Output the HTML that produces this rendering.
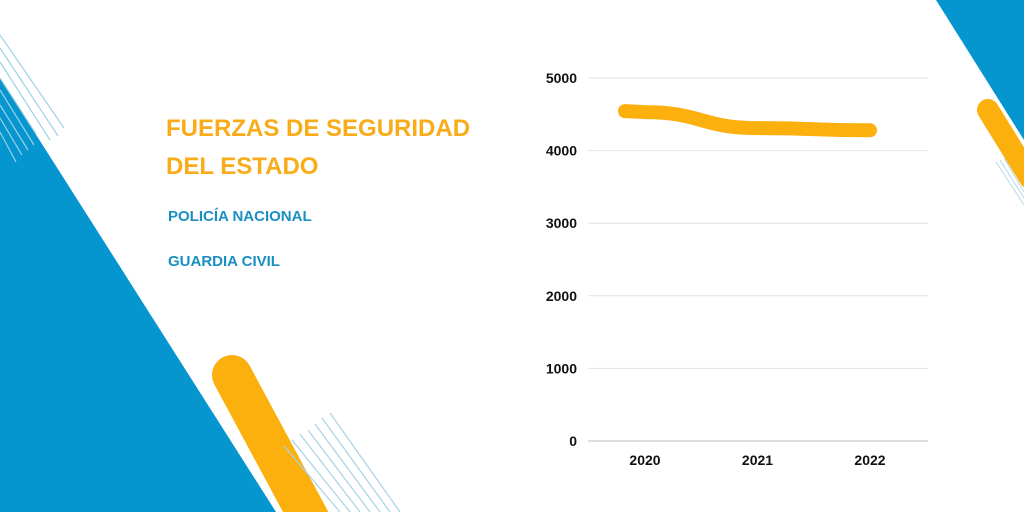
<!DOCTYPE html>
<html><head><meta charset="utf-8">
<style>
body{margin:0;width:1024px;height:512px;overflow:hidden;background:#fff;font-family:"Liberation Sans",sans-serif;}
svg{display:block}
</style></head>
<body>
<svg width="1024" height="512" viewBox="0 0 1024 512">
  <g>
    <polygon points="0,78 276,512 0,512" fill="#0595cf"/>
    <polygon points="936,0 1024,0 1024,140" fill="#0595cf"/>
    <g stroke="#9fd0e6" stroke-width="1.2">
      <line x1="0" y1="35" x2="64" y2="128"/><line x1="0" y1="48" x2="58" y2="136"/>
      <line x1="0" y1="62" x2="50" y2="140"/><line x1="0" y1="78" x2="36" y2="134"/>
      <line x1="0" y1="90" x2="34" y2="145"/><line x1="0" y1="105" x2="28" y2="150"/>
      <line x1="0" y1="118" x2="22" y2="155"/><line x1="0" y1="132" x2="16" y2="162"/>
    </g>
    <line x1="232" y1="375" x2="310" y2="520" stroke="#fbb00e" stroke-width="40" stroke-linecap="round"/>
    <g stroke="#a8d3e6" stroke-width="1.2">
      <line x1="330" y1="413" x2="400" y2="512"/><line x1="322" y1="418" x2="390" y2="512"/>
      <line x1="315" y1="424" x2="380" y2="512"/><line x1="308" y1="430" x2="370" y2="512"/>
      <line x1="300" y1="434" x2="360" y2="512"/><line x1="292" y1="440" x2="350" y2="512"/>
      <line x1="284" y1="446" x2="340" y2="512"/>
    </g>
    <line x1="988" y1="110" x2="1030" y2="178" stroke="#fbb00e" stroke-width="22" stroke-linecap="round"/>
    <g stroke="#b5d9e8" stroke-width="1">
      <line x1="996" y1="162" x2="1024" y2="205"/><line x1="1000" y1="160" x2="1024" y2="198"/>
      <line x1="1004" y1="158" x2="1024" y2="192"/>
    </g>
  </g>
  <text x="166" y="136" font-size="24" font-weight="bold" fill="#f8ac1a">FUERZAS DE SEGURIDAD</text>
  <text x="166" y="174" font-size="24" font-weight="bold" fill="#f8ac1a">DEL ESTADO</text>
  <text x="168" y="221" font-size="15" font-weight="bold" fill="#1a8fc2">POLICÍA NACIONAL</text>
  <text x="168" y="266" font-size="15" font-weight="bold" fill="#1a8fc2">GUARDIA CIVIL</text>
  <g id="chart"></g>
</svg>
<script>
const categories = ["2020","2021","2022"];
const values = [4530, 4310, 4280];
const yTicks = [0,1000,2000,3000,4000,5000];
const NS="http://www.w3.org/2000/svg";
const g=document.getElementById('chart');
const y0=441,y1=78,vmax=5000;
function yScale(v){return y0-(v/vmax)*(y0-y1);}
function xScale(i){return 645+i*((870-645)/(categories.length-1));}
function mk(t,a){const e=document.createElementNS(NS,t);for(const k in a)e.setAttribute(k,a[k]);g.appendChild(e);return e;}
yTicks.forEach(t=>{
  const l=mk('line',{x1:588,x2:928,y1:yScale(t),y2:yScale(t),stroke:t===0?'#bdbdbd':'#e2e2e2','stroke-width':1});
  
  
  const tx=mk('text',{x:577,y:yScale(t)+5,'text-anchor':'end','font-size':14,'font-weight':'bold',fill:'#111'});
  tx.textContent=t;
  
  
});
categories.forEach((c,i)=>{
  const tx=mk('text',{x:xScale(i),y:465,'text-anchor':'middle','font-size':14,'font-weight':'bold',fill:'#111'});
  tx.textContent=c;
  
  
});
const pts=values.map((v,i)=>[xScale(i),yScale(v)]);
let d=`M${pts[0][0]-20},${pts[0][1]-1}`;
d+=` L${pts[0][0]},${pts[0][1]}`;
for(let i=1;i<pts.length;i++){const [ax,ay]=pts[i-1],[bx,by]=pts[i];const mx=(ax+bx)/2;d+=` C${mx},${ay} ${mx},${by} ${bx},${by}`;}
const p=mk('path',{d:d,fill:'none',stroke:'#fbb00e','stroke-width':14,'stroke-linecap':'round','stroke-linejoin':'round'});


</script>
</body></html>
